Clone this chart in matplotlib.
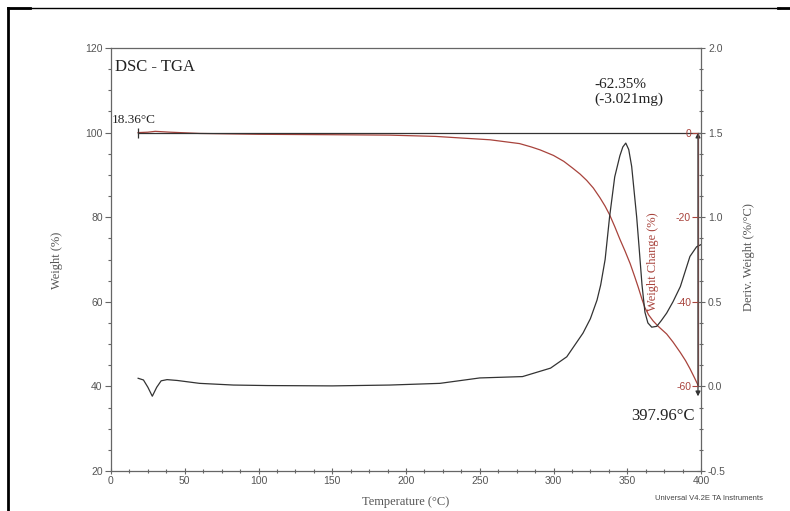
import matplotlib
matplotlib.use("Agg")
import matplotlib.pyplot as plt
from matplotlib.ticker import MultipleLocator
from matplotlib.lines import Line2D

plt.rcParams["axes.unicode_minus"] = False

# ---------------- data ----------------
temp_weight = [18.36, 25, 30, 40, 60, 100, 150, 189, 220, 257, 277, 285, 291, 300, 307, 313,
               318, 322.5, 327, 331.5, 335, 338, 341.5, 345, 348.5, 352, 355, 357.4, 360, 362,
               364.5, 367.5, 371, 376.7, 381, 386, 389.5, 392.5, 395.5, 397.96]
weight_pct = [100.0, 100.1, 100.3, 100.1, 99.8, 99.6, 99.5, 99.4, 99.1, 98.3, 97.4, 96.6, 95.9,
              94.6, 93.2, 91.6, 90.2, 88.7, 86.9, 84.6, 82.6, 80.6, 77.8, 74.8, 72.0, 69.0, 66.0,
              63.5, 60.6, 58.6, 56.9, 55.5, 54.2, 52.4, 50.5, 48.0, 46.1, 44.2, 42.1, 40.3]

temp_deriv = [18.4, 22, 25, 28, 31, 34, 38, 45, 60, 83, 106, 150, 189, 223, 250, 279, 298, 309,
              320, 325, 329.5, 332, 335, 338, 341.5, 345, 347, 349, 351, 353, 356.4, 358, 360,
              362, 364, 366.6, 370, 373, 376.7, 381, 386, 392.5, 397, 400]
deriv_weight = [0.048, 0.038, -0.005, -0.058, -0.005, 0.033, 0.040, 0.035, 0.018, 0.008, 0.005,
                0.003, 0.008, 0.018, 0.050, 0.058, 0.108, 0.175, 0.315, 0.400, 0.510, 0.600,
                0.750, 1.000, 1.238, 1.363, 1.415, 1.438, 1.400, 1.300, 1.000, 0.825, 0.600,
                0.438, 0.375, 0.350, 0.355, 0.388, 0.433, 0.500, 0.590, 0.768, 0.825, 0.838]

step_start_temp = 18.36
step_end_temp = 397.96
step_start_weight = 100.0
step_change_pct = -62.35
step_change_mg = -3.021

x_ticks = [0, 50, 100, 150, 200, 250, 300, 350, 400]
weight_ticks = [20, 40, 60, 80, 100, 120]
deriv_ticks = [-0.5, 0.0, 0.5, 1.0, 1.5, 2.0]
change_ticks = [0, -20, -40, -60]

# ---------------- style ----------------
serif = ["Liberation Serif", "DejaVu Serif"]
sans = ["Liberation Sans", "DejaVu Sans"]
grey = "#555555"
spine_c = "#666666"
red = "#a8433c"
black_c = "#333333"
tick_fs = 7.5

fig = plt.figure(figsize=(7.9, 5.11), dpi=100)
fig.patch.set_facecolor("white")
W, H = 790.0, 511.0
ax = fig.add_axes([111 / W, 1 - 471 / H, 590 / W, 423 / H])

# weight (left) axis
ax.set_xlim(0, 400)
ax.set_ylim(20, 120)
ax.set_xticks(x_ticks)
ax.set_yticks(weight_ticks)
ax.xaxis.set_minor_locator(MultipleLocator(12.5))
ax.yaxis.set_minor_locator(MultipleLocator(5))
ax.plot(temp_weight, weight_pct, color=red, lw=0.9, zorder=3)
ax.tick_params(axis="y", which="major", direction="out", length=4, width=0.8, color=spine_c,
               labelsize=tick_fs, labelcolor=grey, pad=2)
ax.tick_params(axis="y", which="minor", direction="out", length=2, width=0.8, color=spine_c)
ax.tick_params(axis="x", which="major", direction="inout", length=5, width=0.8, color=spine_c,
               labelsize=tick_fs, labelcolor=grey, pad=1)
ax.tick_params(axis="x", which="minor", direction="inout", length=3, width=0.8, color=spine_c)
for lab in ax.get_xticklabels() + ax.get_yticklabels():
    lab.set_family(sans)
for s in ax.spines.values():
    s.set_color(spine_c)
    s.set_linewidth(0.9)
ax.set_ylabel("Weight (%)", family=serif, fontsize=9, color=grey)
ax.yaxis.set_label_coords((63 - 111) / 590, (471 - 260) / 423)
ax.set_xlabel("Temperature (°C)", family=serif, fontsize=9, color=grey)
ax.xaxis.set_label_coords(0.5, -(496 - 471) / 423)

# deriv (right) axis
ax2 = ax.twinx()
ax2.set_ylim(-0.5, 2.0)
ax2.set_yticks(deriv_ticks)
ax2.yaxis.set_minor_locator(MultipleLocator(0.125))
ax2.plot(temp_deriv, deriv_weight, color=black_c, lw=0.9, zorder=3)
ax2.tick_params(axis="y", which="major", direction="inout", length=6, width=0.8, color=spine_c,
                labelsize=tick_fs, labelcolor=grey, pad=2)
ax2.tick_params(axis="y", which="minor", direction="inout", length=3.5, width=0.8, color=spine_c)
for lab in ax2.get_yticklabels():
    lab.set_family(sans)
for s in ax2.spines.values():
    s.set_visible(False)
ax2.set_ylabel("Deriv. Weight (%/°C)", family=serif, fontsize=9, color=grey)
ax2.yaxis.set_label_coords((743 - 111) / 590, (471 - 257) / 423)

# weight change (inner red) axis
ax3 = ax.twinx()
ax3.set_ylim(20 - step_start_weight, 120 - step_start_weight)
for s in ax3.spines.values():
    s.set_visible(False)
ax3.yaxis.tick_left()
ax3.yaxis.set_label_position("left")
ax3.spines["left"].set_visible(True)
ax3.spines["left"].set_position(("data", step_end_temp))
ax3.spines["left"].set_bounds(min(change_ticks), max(change_ticks))
ax3.spines["left"].set_color("#6b4a48")
ax3.spines["left"].set_linewidth(0.9)
ax3.set_yticks(change_ticks)
ax3.yaxis.set_minor_locator(MultipleLocator(5))
ax3.tick_params(axis="y", which="major", direction="out", length=4, width=0.8, color=red,
                labelsize=tick_fs, labelcolor=red, pad=1)
ax3.tick_params(axis="y", which="minor", direction="out", length=0)
for lab in ax3.get_yticklabels():
    lab.set_family(sans)
ax3.set_ylabel("Weight Change (%)", family=serif, fontsize=9, color=red)
ax3.yaxis.set_label_coords((659 - 111) / 590, (471 - 262) / 423)

# step annotation
step_end_weight = step_start_weight + step_change_pct
ax.plot([step_start_temp, step_end_temp + 2], [step_start_weight, step_start_weight],
        color=black_c, lw=0.9, zorder=4)
ax.plot([step_start_temp], [step_start_weight], marker="|", ms=7, mew=0.9, color=black_c, zorder=4)
ax.annotate("", xy=(step_end_temp, step_end_weight), xytext=(step_end_temp, step_start_weight),
            arrowprops=dict(arrowstyle="<|-|>", color="#333333", lw=0.9,
                            mutation_scale=7, shrinkA=0, shrinkB=0), zorder=4)

ax.text(2.7, 115.5, "DSC - TGA", family=serif, fontsize=12, color="#222222", va="center", ha="left")
ax.text(0.7, 102.3, f"{step_start_temp:.2f}°C", family=serif, fontsize=9.5, color="#222222",
        va="baseline", ha="left")
ax.text(327.5, 109.6, f"{step_change_pct:.2f}%\n({step_change_mg:.3f}mg)", family=serif, fontsize=11,
        color="#222222", va="center", ha="left", linespacing=1.2)
ax.text(395.6, 33.1, f"{step_end_temp:.2f}°C", family=serif, fontsize=12, color="#222222",
        va="center", ha="right")

fig.text(763 / W, 1 - 498 / H, "Universal V4.2E TA Instruments", family=sans, fontsize=5.5,
         color="#444444", ha="right", va="center")

# outer frame of the figure image
fig.add_artist(Line2D([8 / W, 8 / W], [1 - 8 / H, 0], transform=fig.transFigure, color="black", lw=2))
fig.add_artist(Line2D([8 / W, 780 / W], [1 - 8.5 / H, 1 - 8.5 / H], transform=fig.transFigure,
                      color="black", lw=1))
fig.add_artist(Line2D([8 / W, 30 / W], [1 - 8.5 / H, 1 - 8.5 / H], transform=fig.transFigure,
                      color="black", lw=2))
fig.add_artist(Line2D([778 / W, 790 / W], [1 - 8.5 / H, 1 - 8.5 / H], transform=fig.transFigure,
                      color="black", lw=2))

fig.savefig("out.png", dpi=100)
